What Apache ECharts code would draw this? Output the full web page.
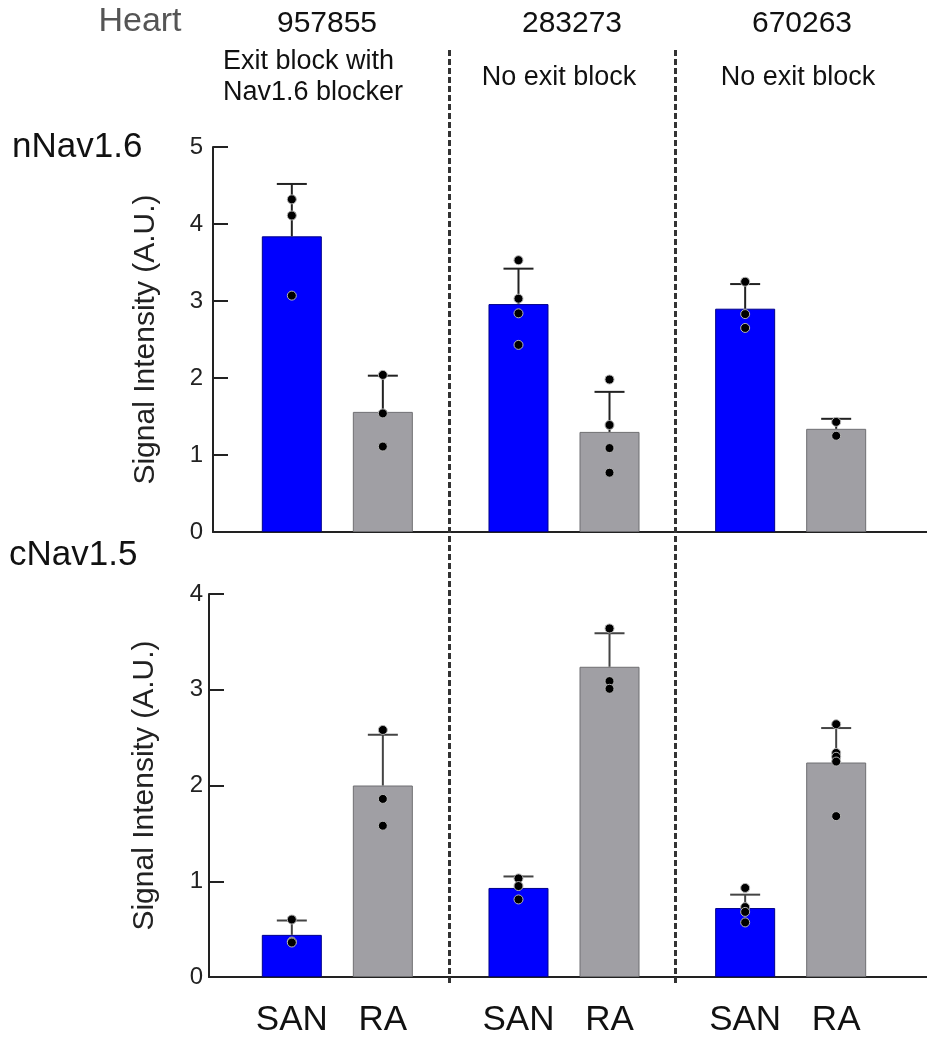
<!DOCTYPE html>
<html>
<head>
<meta charset="utf-8">
<script src="https://cdn.jsdelivr.net/npm/echarts@6/dist/echarts.min.js"></script>
<style>
  html, body { margin: 0; padding: 0; background: #fff; }
  #chart { width: 927px; height: 1038px; }
</style>
</head>
<body>
<div id="chart"></div>
<script>
// Hearts (columns) and tissue regions
const hearts = ['957855', '283273', '670263'];
const heartNotes = ['Exit block with\nNav1.6 blocker', 'No exit block', 'No exit block'];
const regions = ['SAN', 'RA'];
const panelNames = ['nNav1.6', 'cNav1.5'];

// nNav1.6 signal intensity: means, SD and individual measurements per heart
const nav16SanMean = [3.84, 2.96, 2.90];
const nav16SanSd   = [0.68, 0.46, 0.32];
const nav16RaMean  = [1.56, 1.30, 1.34];
const nav16RaSd    = [0.47, 0.52, 0.13];
const nav16SanPts  = [[4.32, 4.11, 3.07], [3.53, 3.03, 2.84, 2.43], [3.25, 2.83, 2.65]];
const nav16RaPts   = [[2.04, 1.54, 1.11], [1.98, 1.39, 1.09, 0.77], [1.43, 1.25]];

// cNav1.5 signal intensity
const nav15SanMean = [0.44, 0.93, 0.72];
const nav15SanSd   = [0.15, 0.12, 0.14];
const nav15RaMean  = [2.00, 3.24, 2.24];
const nav15RaSd    = [0.53, 0.35, 0.36];
const nav15SanPts  = [[0.60, 0.37, 0.36], [1.03, 0.95, 0.81], [0.93, 0.73, 0.68, 0.57]];
const nav15RaPts   = [[2.58, 1.86, 1.58], [3.64, 3.09, 3.01], [2.64, 2.34, 2.30, 2.25, 1.68]];

// y axis ranges
const yMaxTop = 5, yMaxBottom = 4, yStep = 1;

const FONT = 'Liberation Sans, Arial, Helvetica, sans-serif';
const BAR_W = 60;
const BAR_GAP = 0.517;                       // gap between SAN and RA bars, fraction of bar width
const HALF_STEP = BAR_W * (1 + BAR_GAP) / 2; // distance from group centre to each bar centre
const SAN_COLOR = '#0000ff';
const RA_COLOR = '#a09fa4';

const chart = echarts.init(document.getElementById('chart'), null, { renderer: 'canvas' });

function errorSeries(means, sds, side, axisIdx, stroke) {
  return {
    type: 'custom',
    xAxisIndex: axisIdx, yAxisIndex: axisIdx,
    z: 4,
    encode: { x: 0, y: 1 },
    data: means.map((m, i) => [hearts[i], m, sds[i]]),
    renderItem: function (params, api) {
      const c = api.value(0), m = api.value(1), s = api.value(2);
      const p0 = api.coord([c, m]);
      const p1 = api.coord([c, m + s]);
      const x = p0[0] + side * HALF_STEP;
      const st = { stroke: stroke, lineWidth: 2 };
      return {
        type: 'group',
        children: [
          { type: 'line', shape: { x1: x, y1: p0[1], x2: x, y2: p1[1] }, style: st },
          { type: 'line', shape: { x1: x - 15, y1: p1[1], x2: x + 15, y2: p1[1] }, style: st }
        ]
      };
    }
  };
}

function dotSeries(pts, side, axisIdx) {
  const data = [];
  pts.forEach((arr, i) => arr.forEach(v => data.push([hearts[i], v])));
  return {
    type: 'scatter',
    xAxisIndex: axisIdx, yAxisIndex: axisIdx,
    z: 5,
    symbol: 'circle',
    symbolSize: 9,
    symbolOffset: [side * HALF_STEP, 0],
    itemStyle: { color: '#000', borderColor: '#b5b5b5', borderWidth: 1, opacity: 1 },
    data: data
  };
}

function barSeries(name, means, axisIdx, color, border, withLabel) {
  return {
    type: 'bar',
    name: name,
    xAxisIndex: axisIdx, yAxisIndex: axisIdx,
    barWidth: BAR_W,
    barGap: (BAR_GAP * 100) + '%',
    z: 2,
    itemStyle: { color: color, borderColor: border, borderWidth: 1 },
    label: withLabel ? {
      show: true,
      formatter: name,
      position: ['50%', '100%'],
      offset: [0, 43],
      align: 'center',
      verticalAlign: 'middle',
      fontSize: 35,
      fontFamily: FONT,
      color: '#111'
    } : { show: false },
    data: means
  };
}

function visibleX(gridIndex) {
  return {
    gridIndex: gridIndex, type: 'category', data: hearts,
    axisLine: { show: true, lineStyle: { color: '#222', width: 2 } },
    axisTick: { show: false }, axisLabel: { show: false }, splitLine: { show: false }
  };
}
function hiddenX(gridIndex) {
  return { gridIndex: gridIndex, type: 'category', data: hearts, show: false };
}
function visibleY(gridIndex, max, margin, nameGap) {
  return {
    gridIndex: gridIndex, type: 'value', min: 0, max: max, interval: yStep,
    axisLine: { show: true, lineStyle: { color: '#222', width: 2 } },
    axisTick: { show: true, inside: true, length: 15, lineStyle: { color: '#222', width: 2 } },
    axisLabel: { fontSize: 24, fontFamily: FONT, color: '#222', margin: margin },
    splitLine: { show: false },
    name: 'Signal Intensity (A.U.)',
    nameLocation: 'middle',
    nameGap: nameGap,
    nameTextStyle: { fontSize: 30, fontFamily: FONT, color: '#222' }
  };
}
function hiddenY(gridIndex, max) {
  return { gridIndex: gridIndex, type: 'value', min: 0, max: max, interval: yStep, show: false };
}

const gridTop = { top: 147, height: 385 };
const gridBottom = { top: 594, height: 383 };

const headerText = [];
function txt(id, text, x, y, size, color, align, extra) {
  headerText.push(Object.assign({
    type: 'text', id: id, z: 10,
    style: Object.assign({
      text: text, x: x, y: y,
      fontSize: size, fontFamily: FONT, fill: color,
      align: align, textAlign: align,
      verticalAlign: 'middle', textVerticalAlign: 'middle'
    }, extra || {})
  }));
}
txt('heartLabel', 'Heart', 140, 22, 34, '#555', 'center');
const heartX = [327, 572, 802];
const noteX = [223, 559, 798];
hearts.forEach((h, i) => {
  txt('heart' + i, h, heartX[i], 24, 30, '#111', 'center');
  if (i === 0) {
    txt('note' + i, heartNotes[i], noteX[i], 77, 27, '#111', 'left', { lineHeight: 31 });
  } else {
    txt('note' + i, heartNotes[i], noteX[i], 77.5, 27, '#111', 'center');
  }
});
txt('panel0', panelNames[0], 12, 147, 35, '#111', 'left');
txt('panel1', panelNames[1], 9, 555, 35, '#111', 'left');

chart.setOption({
  animation: false,
  backgroundColor: '#fff',
  textStyle: { fontFamily: FONT },
  grid: [
    Object.assign({ left: 213, right: 0, outerBoundsMode: 'none' }, gridTop),
    Object.assign({ left: 224, right: 23, outerBoundsMode: 'none' }, gridTop),
    Object.assign({ left: 209, right: 0, outerBoundsMode: 'none' }, gridBottom),
    Object.assign({ left: 224, right: 23, outerBoundsMode: 'none' }, gridBottom)
  ],
  xAxis: [visibleX(0), hiddenX(1), visibleX(2), hiddenX(3)],
  yAxis: [
    visibleY(0, yMaxTop, 10, 52), hiddenY(1, yMaxTop),
    visibleY(2, yMaxBottom, 6, 49), hiddenY(3, yMaxBottom)
  ],
  series: [
    barSeries(regions[0], nav16SanMean, 1, SAN_COLOR, '#00008a', false),
    barSeries(regions[1], nav16RaMean, 1, RA_COLOR, '#6f6f72', false),
    errorSeries(nav16SanMean, nav16SanSd, -1, 1, '#222'),
    errorSeries(nav16RaMean, nav16RaSd, 1, 1, '#222'),
    dotSeries(nav16SanPts, -1, 1),
    dotSeries(nav16RaPts, 1, 1),

    barSeries(regions[0], nav15SanMean, 3, SAN_COLOR, '#00008a', true),
    barSeries(regions[1], nav15RaMean, 3, RA_COLOR, '#6f6f72', true),
    errorSeries(nav15SanMean, nav15SanSd, -1, 3, '#444'),
    errorSeries(nav15RaMean, nav15RaSd, 1, 3, '#444'),
    dotSeries(nav15SanPts, -1, 3),
    dotSeries(nav15RaPts, 1, 3)
  ],
  graphic: headerText
});

// Dashed separators between hearts, placed at the boundaries between category bands
const centers = hearts.map(h => chart.convertToPixel({ xAxisIndex: 1 }, h));
const separators = [0, 1].map(i => {
  const x = Math.round((centers[i] + centers[i + 1]) / 2) - 1.5;
  return {
    type: 'line', id: 'sep' + i, z: 1,
    shape: { x1: x, y1: 50, x2: x, y2: 985 },
    style: { stroke: '#333', lineWidth: 3, lineDash: [6, 3] }
  };
});
chart.setOption({ graphic: headerText.concat(separators) });
</script>
</body>
</html>
